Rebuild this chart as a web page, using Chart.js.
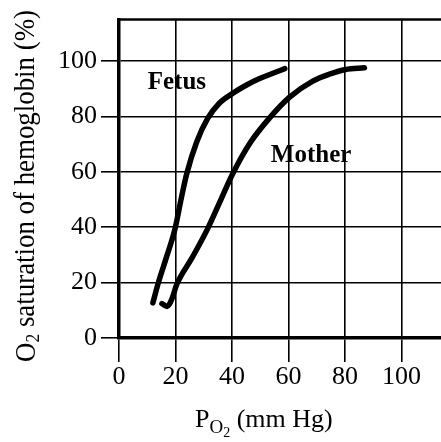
<!DOCTYPE html>
<html>
<head>
<meta charset="utf-8">
<script src="https://cdn.jsdelivr.net/npm/chart.js@4.4.0/dist/chart.umd.min.js"></script>
<style>
  html, body { margin: 0; padding: 0; background: #fff; }
</style>
</head>
<body>
<canvas id="chart" width="441" height="442"></canvas>
<script>
// oxygen dissociation curves
const fetusPO2 = [12, 13.8, 16.5, 19.8, 22, 24, 27.5, 31.4, 35.5, 40.3, 45, 49.8, 54.5, 58.7];
const fetusSat = [12.7, 19.5, 28.2, 39.3, 50.2, 59.4, 70.8, 79.3, 84.8, 88.4, 91.3, 93.7, 95.6, 97.3];
const motherPO2 = [15.2, 17, 18.6, 20.5, 26, 31.4, 36, 40.3, 46.5, 53.4, 60.4, 68.6, 74.5, 80.2, 86.9];
const motherSat = [12.4, 11.4, 13.8, 19.5, 29.2, 39.5, 49.8, 59.4, 70.6, 79.6, 87, 92.8, 95.3, 97, 97.6];
const curveNames = ['Fetus', 'Mother'];
const xRange = [0, 114];
const yRange = [0, 115];

const SERIF = '"Liberation Serif", "DejaVu Serif", serif';

const toPoints = (xs, ys) => xs.map((x, i) => ({ x: x, y: ys[i] }));

// where the curve names sit, in data units
const nameSpots = [{ x: 20.5, y: 92.4 }, { x: 68, y: 65.8 }];

const extras = {
  id: 'extras',
  afterDraw(chart) {
    const ctx = chart.ctx;
    const area = chart.chartArea;
    const xs = chart.scales.x, ys = chart.scales.y;
    ctx.save();
    ctx.fillStyle = '#000';
    ctx.strokeStyle = '#000';

    // top frame line
    ctx.lineWidth = 2.5;
    ctx.beginPath();
    ctx.moveTo(area.left - 1, area.top);
    ctx.lineTo(area.right, area.top);
    ctx.stroke();

    // curve names
    ctx.font = 'bold 25px ' + SERIF;
    ctx.textAlign = 'center';
    ctx.textBaseline = 'middle';
    curveNames.forEach((name, i) => {
      ctx.fillText(name, xs.getPixelForValue(nameSpots[i].x), ys.getPixelForValue(nameSpots[i].y));
    });

    // x title: P with subscript O2
    ctx.textAlign = 'left';
    ctx.textBaseline = 'alphabetic';
    let x = 195;
    ctx.font = '26px ' + SERIF;
    ctx.fillText('P', x, 427);
    x += ctx.measureText('P').width;
    ctx.font = '19px ' + SERIF;
    ctx.fillText('O', x, 433);
    x += ctx.measureText('O').width;
    ctx.font = '14px ' + SERIF;
    ctx.fillText('2', x, 437);
    x += ctx.measureText('2').width;
    ctx.font = '26px ' + SERIF;
    ctx.fillText(' (mm Hg)', x, 427);

    // y title, rotated
    ctx.translate(35, 362);
    ctx.rotate(-Math.PI / 2);
    const rest = ' saturation of hemoglobin (%)';
    ctx.font = '29px ' + SERIF;
    const wO = ctx.measureText('O').width;
    const wR = ctx.measureText(rest).width;
    ctx.font = '19px ' + SERIF;
    const w2 = ctx.measureText('2').width;
    const k = 352 / (wO + w2 + wR);
    ctx.scale(k, 1);
    ctx.font = '29px ' + SERIF;
    ctx.fillText('O', 0, 0);
    ctx.font = '19px ' + SERIF;
    ctx.fillText('2', wO, 4);
    ctx.font = '29px ' + SERIF;
    ctx.fillText(rest, wO + w2, -1);
    ctx.restore();
  }
};

const chart = new Chart(document.getElementById('chart').getContext('2d'), {
  type: 'scatter',
  data: {
    datasets: [
      { label: curveNames[0], data: toPoints(fetusPO2, fetusSat) },
      { label: curveNames[1], data: toPoints(motherPO2, motherSat) }
    ].map(d => Object.assign(d, {
      showLine: true,
      borderColor: '#000',
      backgroundColor: '#000',
      borderWidth: 5.5,
      borderCapStyle: 'round',
      borderJoinStyle: 'round',
      pointRadius: 0,
      cubicInterpolationMode: 'monotone',
      fill: false
    }))
  },
  options: {
    responsive: false,
    animation: false,
    layout: { padding: { top: 13, right: 0, left: 0, bottom: 0 } },
    plugins: { legend: { display: false }, tooltip: { enabled: false } },
    scales: {
      x: {
        type: 'linear',
        min: xRange[0],
        max: xRange[1],
        ticks: { stepSize: 20, includeBounds: false, color: '#000', padding: 0, font: { family: SERIF, size: 26 } },
        grid: { color: '#000', lineWidth: 1.6, tickLength: 24 },
        border: { color: '#000', width: 3.5 },
        afterFit: s => { s.height = 104; }
      },
      y: {
        type: 'linear',
        min: yRange[0],
        max: yRange[1],
        ticks: { stepSize: 20, includeBounds: false, color: '#000', padding: 4, font: { family: SERIF, size: 26 } },
        grid: { color: '#000', lineWidth: 1.6, tickLength: 18 },
        border: { color: '#000', width: 3.5 },
        afterFit: s => { s.width = 119; }
      }
    }
  },
  plugins: [extras]
});
</script>
</body>
</html>
